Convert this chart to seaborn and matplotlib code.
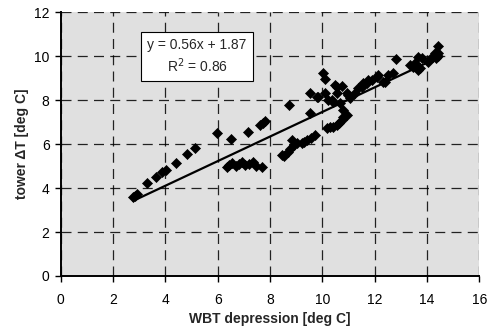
import numpy as np
import pandas as pd
import matplotlib
matplotlib.use("Agg")
import matplotlib.pyplot as plt
import seaborn as sns

wbt_depression = [
    2.77, 2.90, 2.85, 3.30, 3.65, 3.88, 4.03, 4.40, 4.83, 5.13, 5.96, 6.52, 7.17, 7.62, 7.72, 7.81,
    6.34, 6.45, 6.54, 6.70, 6.80, 6.92, 7.05, 7.20, 7.34, 7.45, 7.68,
    8.45, 8.55, 8.70, 8.77, 8.83, 8.90, 9.05, 9.21, 9.30, 9.40, 9.55, 9.72, 8.74, 9.53,
    10.17, 10.30, 10.42, 10.55, 10.64, 10.74, 10.80, 10.93, 10.80, 10.68, 10.42, 10.36, 10.23,
    9.53, 9.81, 9.85, 10.10, 10.57, 10.49, 10.55, 10.74, 10.93, 11.06, 11.00, 10.01, 10.10,
    11.25, 11.38, 11.50, 11.57, 11.70, 11.76, 11.89, 12.08, 12.14, 12.33, 12.40, 12.52, 12.71,
    12.82, 13.35, 13.48, 13.55, 13.67, 13.67, 13.73, 13.80, 14.05, 14.18, 14.24, 14.30, 14.41,
    14.44, 14.44, 14.35,
]
tower_dt = [
    3.60, 3.74, 3.65, 4.23, 4.50, 4.74, 4.83, 5.15, 5.56, 5.83, 6.52, 6.22, 6.57, 6.88, 6.95, 7.06,
    4.98, 5.05, 5.13, 5.00, 5.10, 5.20, 5.05, 5.10, 5.18, 5.00, 4.98,
    5.51, 5.45, 5.66, 5.80, 6.19, 5.95, 6.05, 6.04, 6.10, 6.19, 6.30, 6.42, 7.79, 7.41,
    6.72, 6.78, 6.80, 6.88, 6.95, 7.10, 7.25, 7.33, 7.56, 7.86, 7.94, 8.01, 8.01,
    8.32, 8.17, 8.17, 8.32, 8.32, 8.70, 8.62, 8.65, 8.32, 8.09, 8.24, 9.26, 8.96,
    8.32, 8.55, 8.62, 8.77, 8.77, 8.93, 8.93, 9.08, 9.15, 8.85, 8.85, 9.15, 9.23,
    9.88, 9.61, 9.53, 9.70, 9.99, 9.38, 9.46, 9.91, 9.76, 9.99, 9.99, 10.14, 10.49,
    10.14, 10.00, 9.95,
]
slope = 0.56
intercept = 1.87
r_squared = 0.86
x_ticks = [0, 2, 4, 6, 8, 10, 12, 14, 16]
y_ticks = [0, 2, 4, 6, 8, 10, 12]

df = pd.DataFrame({"x": wbt_depression, "y": tower_dt})

sns.set_theme(style="white")
plt.rcParams["font.family"] = ["Liberation Sans", "DejaVu Sans"]

fig = plt.figure(figsize=(4.92, 3.33), dpi=100)
ax = fig.add_axes([0.1234, 0.1712, 0.8508, 0.7913])
ax.set_facecolor("#e0e0e0")

sns.scatterplot(data=df, x="x", y="y", ax=ax, marker="D", s=26, color="black",
                edgecolor="black", linewidth=0.5, zorder=3)

xl = np.array([min(wbt_depression), max(wbt_depression)])
sns.lineplot(x=xl, y=slope * xl + intercept, ax=ax, color="black", linewidth=1.6, zorder=4)

ax.set_xlim(0, 16)
ax.set_ylim(0, 12)
ax.set_xticks(x_ticks)
ax.set_yticks(y_ticks)
ax.grid(True, color="black", linestyle=(0, (8, 5)), linewidth=0.9, alpha=0.85)
ax.set_axisbelow(True)

for s in ["top", "right"]:
    ax.spines[s].set_visible(False)
for s in ["left", "bottom"]:
    ax.spines[s].set_color("black")
    ax.spines[s].set_linewidth(1.4)

ax.tick_params(axis="both", which="both", direction="out", length=4, width=1,
               color="black", labelsize=10, labelcolor="black", bottom=True, left=True, pad=4)
ax.xaxis.set_tick_params(pad=8)

ax.set_xlabel("WBT depression [deg C]", fontsize=10, fontweight="bold", labelpad=4)
ax.set_ylabel("tower ΔT [deg C]", fontsize=10, fontweight="bold", labelpad=4)

ax.text(0.3256, 0.833, f"y = {slope:.2f}x + {intercept:.2f}\nR$^2$ = {r_squared:.2f}",
        transform=ax.transAxes, ha="center", va="center", fontsize=10, linespacing=1.3,
        bbox=dict(boxstyle="square,pad=0.45", facecolor="white", edgecolor="black", linewidth=0.8),
        zorder=5)

fig.savefig("out.png", dpi=100)
